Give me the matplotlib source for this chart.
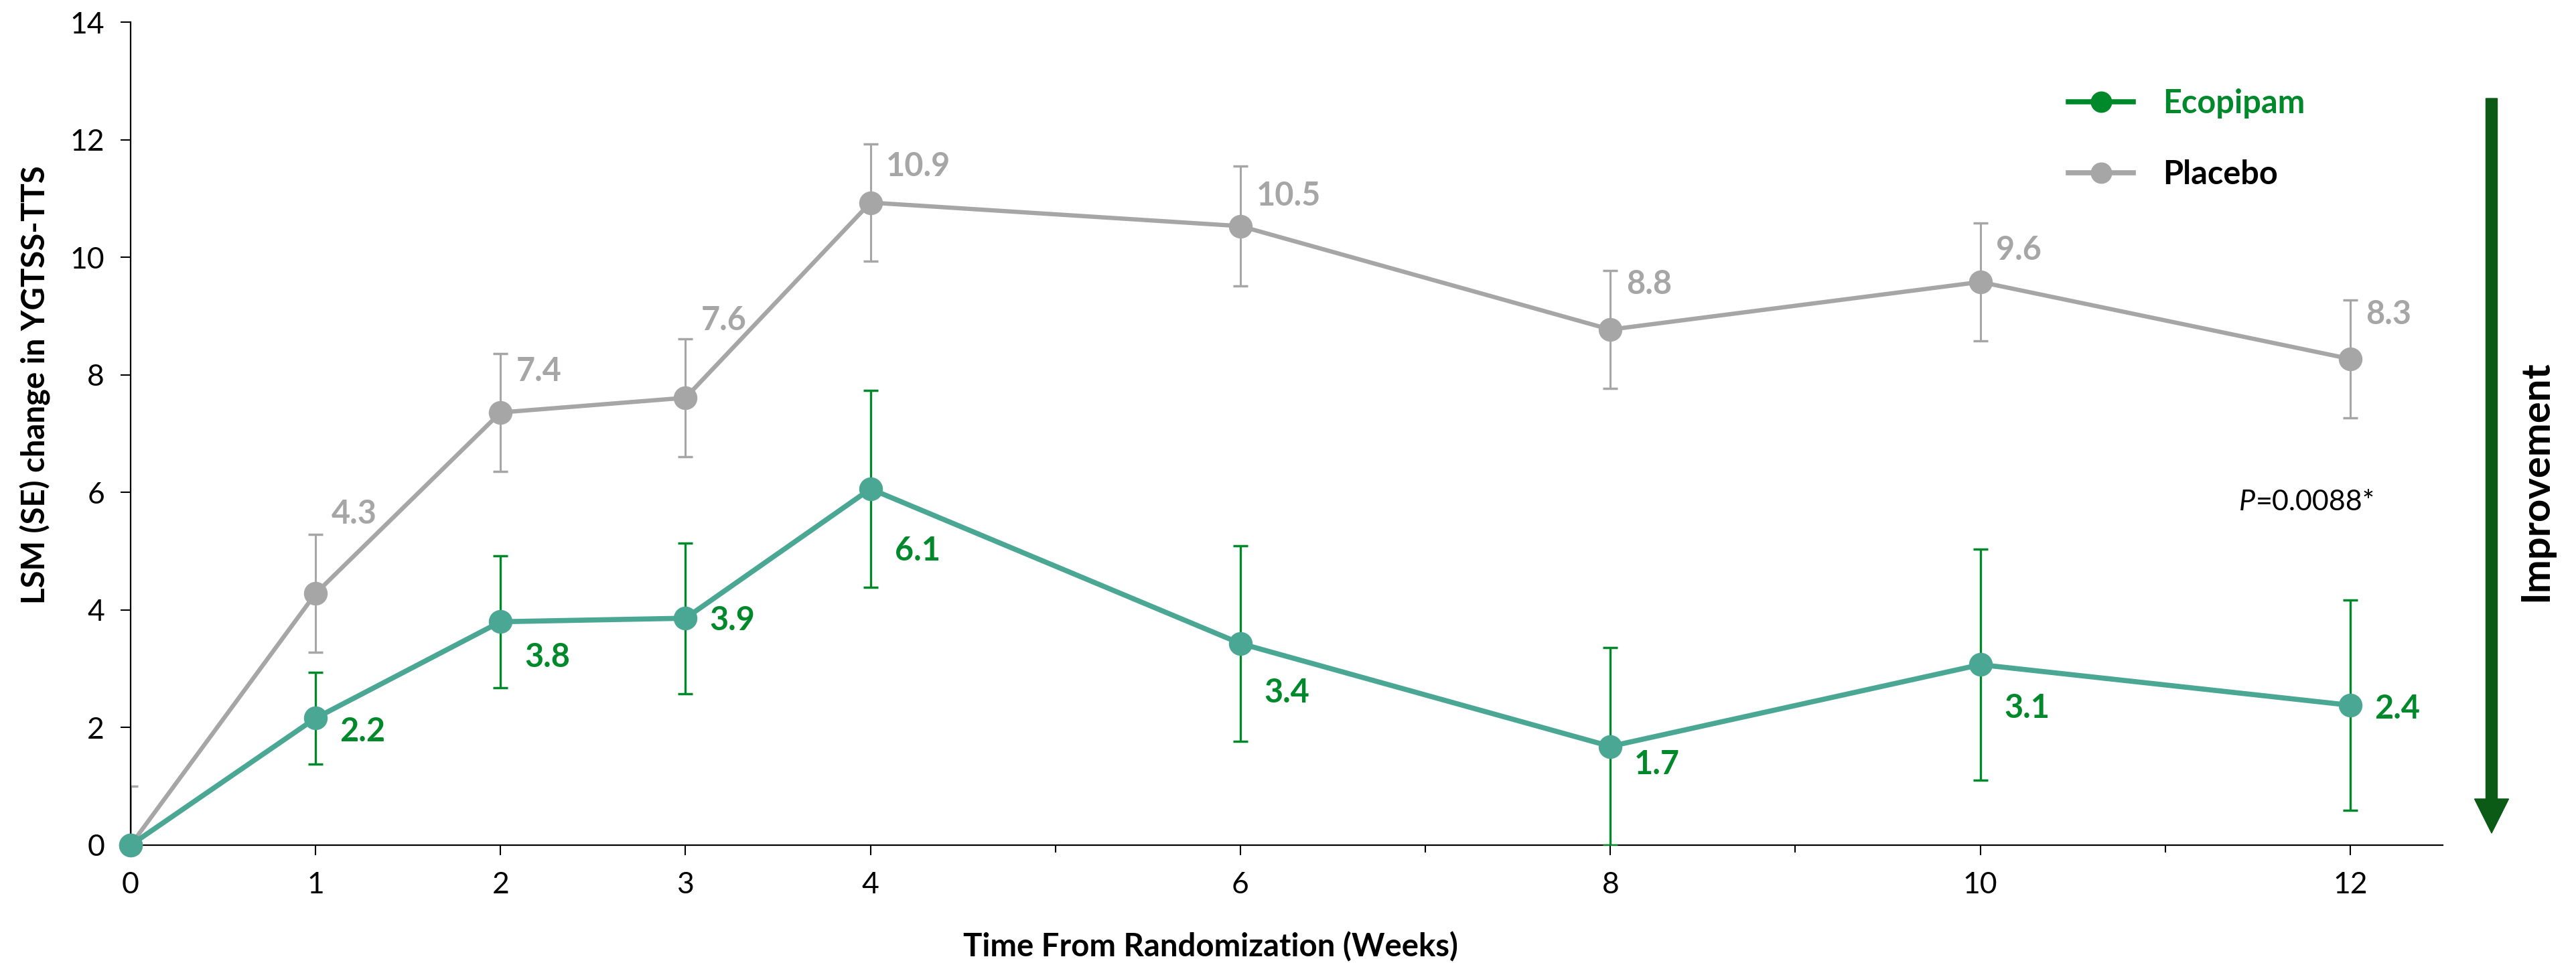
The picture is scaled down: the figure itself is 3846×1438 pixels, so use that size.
import matplotlib
matplotlib.use("Agg")
import matplotlib.pyplot as plt
from matplotlib.lines import Line2D
from matplotlib.patches import FancyArrow

plt.rcParams['font.family'] = ['Lato', 'DejaVu Sans']

# data
weeks = [0, 1, 2, 3, 4, 6, 8, 10, 12]
ecopipam = [0, 2.16, 3.80, 3.86, 6.06, 3.43, 1.68, 3.07, 2.38]
ecopipam_se = [0, 0.78, 1.12, 1.28, 1.68, 1.66, 1.68, 1.96, 1.79]
placebo = [0, 4.28, 7.36, 7.61, 10.93, 10.53, 8.77, 9.58, 8.27]
placebo_se = [1.0, 1.0, 1.0, 1.0, 1.0, 1.02, 1.0, 1.0, 1.0]
p_value = "0.0088"

# label baseline offsets (layout only)
eco_dy = [None, -0.39, -0.77, -0.20, -1.22, -1.00, -0.47, -0.91, -0.23]
pla_dy = [None, 1.19, 0.53, 1.15, 0.45, 0.35, 0.61, 0.38, 0.59]

TEAL = '#4AA793'
GREEN = '#00892B'
GREY = '#A6A6A6'
DARK = '#0B5A15'

W, H = 3846, 1438
fig = plt.figure(figsize=(W / 100, H / 100), dpi=100)
ax = fig.add_axes([195 / W, 1 - 1262 / H, (3647 - 195) / W, (1262 - 33) / H])

# placebo
ax.errorbar(weeks, placebo, yerr=placebo_se, fmt='none', ecolor=GREY,
            elinewidth=2.2, capsize=8, capthick=2.5, zorder=2)
ax.plot(weeks, placebo, '-o', color=GREY, lw=4.6, ms=24.5, zorder=3, clip_on=False)

# ecopipam
ax.errorbar(weeks, ecopipam, yerr=ecopipam_se, fmt='none', ecolor=GREEN,
            elinewidth=2.4, capsize=8, capthick=2.5, zorder=4)
ax.plot(weeks, ecopipam, '-o', color=TEAL, lw=5.5, ms=24.5, zorder=5, clip_on=False)

for i in range(1, len(weeks)):
    ax.text(weeks[i] + 0.085, placebo[i] + pla_dy[i], f'{placebo[i]:.1f}',
            ha='left', va='baseline', fontsize=35, fontweight='bold', color=GREY)
    ax.text(weeks[i] + 0.13, ecopipam[i] + eco_dy[i], f'{ecopipam[i]:.1f}',
            ha='left', va='baseline', fontsize=35, fontweight='bold', color=GREEN)

ax.set_xlim(0, 12.5)
ax.set_ylim(0, 14)
ax.set_xticks(weeks)
ax.set_xticks([5, 7, 9, 11], minor=True)
ax.set_yticks(range(0, 15, 2))
ax.tick_params(axis='both', which='major', length=11, width=1.5, labelsize=32, pad=17)
ax.tick_params(axis='x', which='minor', length=8, width=1.5)
for s in ['top', 'right']:
    ax.spines[s].set_visible(False)
for s in ['left', 'bottom']:
    ax.spines[s].set_linewidth(1.6)

fig.text(53 / W, 1 - 575 / H, 'LSM (SE) change in YGTSS-TTS', rotation=90,
         ha='center', va='center', fontsize=34, fontweight='bold')
fig.text(1807 / W, 1 - 1428 / H, 'Time From Randomization (Weeks)',
         ha='center', va='baseline', fontsize=34, fontweight='bold')

# p value
t = ax.text(11.40, 5.83, 'P', style='italic', fontsize=31, ha='left', va='center')
ax.annotate('=' + p_value + '*', xy=(1, 0), xycoords=t, fontsize=31,
            ha='left', va='bottom')

# legend
handles = [Line2D([], [], color=GREEN, marker='o', lw=5.5, ms=22),
           Line2D([], [], color=GREY, marker='o', lw=5.5, ms=22)]
leg = fig.legend(handles, ['Ecopipam', 'Placebo'], loc='upper left',
                 bbox_to_anchor=(3088 / W, 1 - 132 / H), frameon=False,
                 prop={'size': 35, 'weight': 'bold'}, handlelength=2.0,
                 handletextpad=0.9, labelspacing=1.25, borderpad=0, borderaxespad=0)
leg.get_texts()[0].set_color(GREEN)
leg.get_texts()[1].set_color('black')

# improvement arrow
fig.add_artist(FancyArrow(3720 / W, 1 - 147 / H, 0, -(1244 - 147) / H,
                          width=17 / W, head_width=51 / W, head_length=51 / H,
                          length_includes_head=True, color=DARK,
                          transform=fig.transFigure))
fig.text(3786 / W, 1 - 718 / H, 'Improvement', rotation=90, ha='center',
         va='center', fontsize=43, fontweight='bold')

fig.savefig('out.png', dpi=100)
